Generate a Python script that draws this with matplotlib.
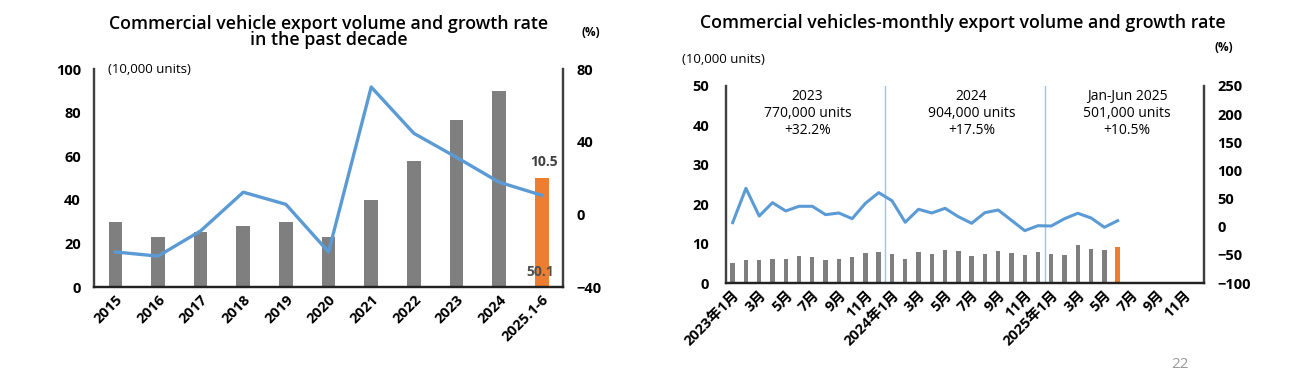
import numpy as np
import matplotlib.pyplot as plt

plt.rcParams['font.family'] = ['Open Sans', 'Noto Sans CJK JP', 'DejaVu Sans']

# left chart: yearly data
years = ["2015", "2016", "2017", "2018", "2019", "2020", "2021", "2022", "2023", "2024", "2025.1-6"]
volume_year = [29.8, 22.8, 25.1, 28.0, 29.7, 23.1, 39.9, 57.9, 76.7, 90.0, 50.1]
growth_year = [-20.7, -23.0, -9.1, 12.2, 5.5, -20.7, 70.1, 44.6, 31.4, 17.7, 10.5]

# right chart: monthly data (2023-01 .. 2025-06), 36 month slots
volume_month = [5.0, 5.8, 5.8, 6.0, 6.2, 6.9, 6.5, 5.8, 6.2, 6.7, 7.5, 7.9,
                7.4, 6.2, 7.8, 7.4, 8.4, 8.1, 6.9, 7.4, 8.1, 7.5, 7.1, 7.8,
                7.4, 7.0, 9.6, 8.6, 8.3, 9.1]
growth_month = [7.2, 68.2, 19.0, 42.7, 28.0, 36.3, 36.3, 21.4, 24.4, 14.3, 41.6, 60.5,
                46.2, 7.9, 31.0, 24.4, 32.7, 17.8, 6.1, 25.0, 29.7, 11.4, -7.0, 1.8,
                1.3, 14.3, 23.9, 15.5, -1.0, 10.7]
month_labels = ["2023年1月", "3月", "5月", "7月", "9月", "11月",
                "2024年1月", "3月", "5月", "7月", "9月", "11月",
                "2025年1月", "3月", "5月", "7月", "9月", "11月"]
period_notes = ["2023\n770,000 units\n+32.2%",
                "2024\n904,000 units\n+17.5%",
                "Jan-Jun 2025\n501,000 units\n+10.5%"]

GRAY = "#7f7f7f"
ORANGE = "#ed7d31"
BLUE = "#5b9bd5"
LIGHTBLUE = "#9dc3e6"

fig = plt.figure(figsize=(12.9, 3.78), dpi=100)


def style_axes(ax, ax2, pad_left, pad_right):
    for a in (ax, ax2):
        a.spines["top"].set_visible(False)
        a.spines["left"].set_color("#404040")
        a.spines["right"].set_color("#404040")
        a.spines["bottom"].set_color("#222222")
        for s in ("left", "right", "bottom"):
            a.spines[s].set_linewidth(1.6)
        a.tick_params(length=0, labelsize=10.5)
        for lbl in a.get_yticklabels():
            lbl.set_fontweight("bold")
    ax.tick_params(axis="y", pad=pad_left)
    ax2.tick_params(axis="y", pad=pad_right)


# ---- left chart ----
ax1 = fig.add_axes([0.0729, 0.2407, 0.3636, 0.5767])
x = np.arange(len(years))
colors = [GRAY] * (len(years) - 1) + [ORANGE]
ax1.bar(x, volume_year, width=0.32, color=colors)
ax1.set_xlim(-0.5, len(years) - 0.5)
ax1.set_ylim(0, 100)
ax1.set_yticks([0, 20, 40, 60, 80, 100])
ax1.set_xticks(x)
ax1.set_xticklabels(years, rotation=45, ha="right", rotation_mode="anchor", fontweight="bold", fontsize=10.5)
ax1r = ax1.twinx()
ax1r.plot(x, growth_year, color=BLUE, lw=2.4)
ax1r.set_ylim(-40, 80)
ax1r.set_yticks([-40, 0, 40, 80])
style_axes(ax1, ax1r, 9.5, 9.5)
ax1.tick_params(axis="x", pad=4)
ax1.text(0.03, 1.0, "(10,000 units)", transform=ax1.transAxes, fontsize=9.5, va="center")
ax1.text(x[-1] + 0.05, 54, "10.5", fontsize=10, color="#404040", fontweight="bold", ha="center", va="bottom")
ax1.text(x[-1] - 0.03, 7, "50.1", fontsize=10, color="#505050", fontweight="bold", ha="center", va="center")
fig.text(0.255, 0.915, "Commercial vehicle export volume and growth rate\nin the past decade",
         ha="center", va="center", fontsize=12.8, fontweight="semibold", linespacing=0.85)
fig.text(0.458, 0.915, "(%)", ha="center", va="center", fontsize=8.5, fontweight="bold")

# ---- right chart ----
ax2 = fig.add_axes([0.5628, 0.2513, 0.3705, 0.5212])
m = np.arange(len(volume_month))
colors_m = [GRAY] * (len(volume_month) - 1) + [ORANGE]
ax2.bar(m, volume_month, width=0.33, color=colors_m)
ax2.set_xlim(-0.5, 35.5)
ax2.set_ylim(0, 50)
ax2.set_yticks([0, 10, 20, 30, 40, 50])
ax2.set_xticks(np.arange(0, 36, 2))
ax2.set_xticklabels(month_labels, rotation=45, ha="right", rotation_mode="anchor", fontweight="bold", fontsize=10.5)
for xv in (11.5, 23.5):
    ax2.axvline(xv, color=LIGHTBLUE, lw=1)
ax2r = ax2.twinx()
ax2r.plot(m, growth_month, color=BLUE, lw=2.2)
ax2r.set_ylim(-100, 250)
ax2r.set_yticks([-100, -50, 0, 50, 100, 150, 200, 250])
style_axes(ax2, ax2r, 12, 9.5)
for xc, note in zip([5.65, 18.0, 29.7], period_notes):
    ax2.text(xc, 0.985, note, transform=ax2.get_xaxis_transform(), ha="center", va="top",
             fontsize=10, linespacing=1.2)
ax2.text(-0.092, 1.132, "(10,000 units)", transform=ax2.transAxes, fontsize=9.5, va="center")
fig.text(0.7465, 0.94, "Commercial vehicles-monthly export volume and growth rate",
         ha="center", va="center", fontsize=12.8, fontweight="semibold")
fig.text(0.949, 0.875, "(%)", ha="center", va="center", fontsize=8.5, fontweight="bold")
fig.text(0.915, 0.035, "22", ha="center", va="center", fontsize=11, color="#999999")

fig.savefig("out.png", dpi=100)
